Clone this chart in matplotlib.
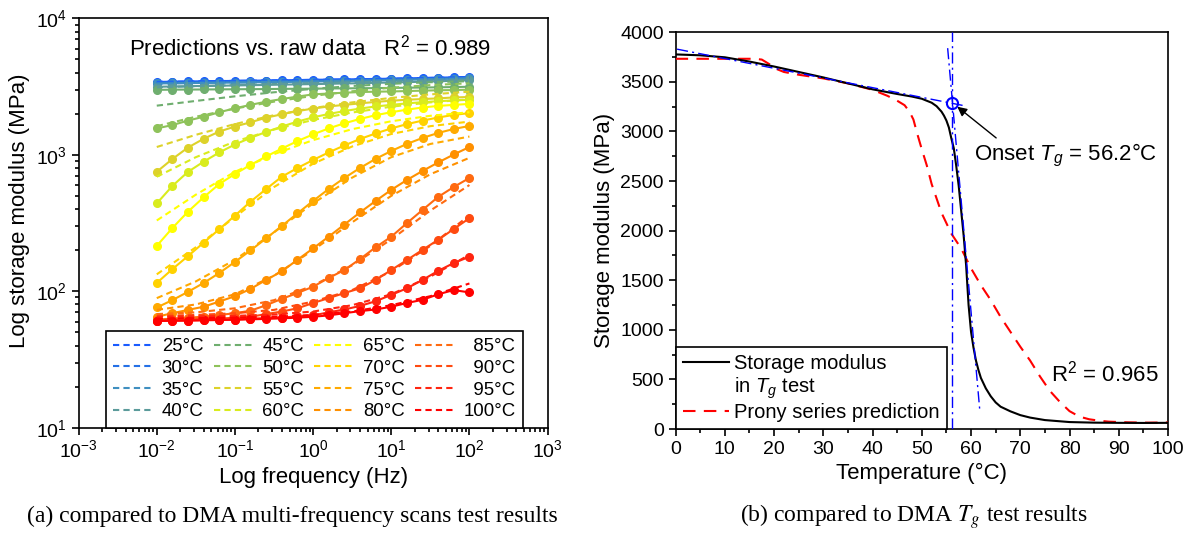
import numpy as np
import matplotlib
matplotlib.use('Agg')
import matplotlib.pyplot as plt
from matplotlib.lines import Line2D
from matplotlib.ticker import LogLocator, MultipleLocator, NullFormatter

plt.rcParams['font.family'] = ['Liberation Sans', 'DejaVu Sans']
plt.rcParams['mathtext.fontset'] = 'custom'
plt.rcParams['mathtext.rm'] = 'Liberation Sans'
plt.rcParams['mathtext.it'] = 'Liberation Sans:italic'
plt.rcParams['mathtext.bf'] = 'Liberation Sans:bold'

# ---------------- data: panel (a) ----------------
temps = [25, 30, 35, 40, 45, 50, 55, 60, 65, 70, 75, 80, 85, 90, 95, 100]
colors = ['#1a5cff', '#2470e6', '#3f8fc0', '#5b9b9b', '#6fae6f', '#8ec25a',
          '#ddd22a', '#d9ec1e', '#ffff00', '#ffd200', '#ffaa00', '#ff9000',
          '#ff6a10', '#ff4a10', '#ff2510', '#ff0000']

freq_raw = [0.01, 0.0158, 0.0251, 0.0398, 0.0631, 0.1, 0.158, 0.251, 0.398, 0.631,
            1, 1.58, 2.51, 3.98, 6.31, 10, 15.8, 25.1, 39.8, 63.1, 100]
freq_pred = [0.01, 0.0316, 0.1, 0.316, 1, 3.16, 10, 31.6, 100]

raw_25 = [3420, 3430, 3445, 3455, 3465, 3480, 3490, 3500, 3515, 3525, 3540, 3555, 3565, 3580, 3595, 3610, 3630, 3650, 3670, 3695, 3720]
raw_30 = [3380, 3390, 3400, 3410, 3420, 3430, 3440, 3455, 3465, 3475, 3490, 3505, 3520, 3535, 3550, 3565, 3585, 3605, 3625, 3650, 3680]
raw_35 = [3330, 3340, 3350, 3360, 3370, 3380, 3390, 3400, 3410, 3425, 3440, 3455, 3470, 3485, 3500, 3520, 3540, 3560, 3585, 3610, 3640]
raw_40 = [3150, 3165, 3180, 3195, 3205, 3220, 3235, 3250, 3265, 3280, 3295, 3310, 3330, 3345, 3365, 3385, 3405, 3430, 3455, 3485, 3520]
raw_45 = [2990, 3000, 3005, 3010, 3015, 3020, 3025, 3030, 3040, 3045, 3050, 3060, 3065, 3075, 3080, 3090, 3100, 3110, 3120, 3135, 3150]
raw_50 = [1560, 1650, 1780, 1900, 2050, 2190, 2320, 2450, 2560, 2670, 2770, 2810, 2850, 2880, 2900, 2910, 2930, 2950, 2970, 2980, 3000]
raw_55 = [750, 930, 1130, 1310, 1480, 1610, 1730, 1870, 1980, 2090, 2180, 2260, 2320, 2380, 2440, 2490, 2530, 2560, 2590, 2630, 2650]
raw_60 = [440, 590, 750, 890, 1040, 1190, 1330, 1470, 1610, 1750, 1880, 1990, 2090, 2180, 2260, 2320, 2380, 2430, 2470, 2500, 2530]
raw_65 = [215, 290, 383, 488, 611, 723, 842, 972, 1110, 1260, 1410, 1560, 1700, 1830, 1950, 2050, 2140, 2220, 2280, 2320, 2360]
raw_70 = [115, 145, 181, 227, 285, 358, 453, 561, 691, 800, 916, 1040, 1170, 1305, 1433, 1560, 1676, 1780, 1875, 1960, 2020]
raw_75 = [76, 86, 99, 115, 136, 164, 199, 244, 301, 372, 459, 561, 676, 800, 933, 1066, 1200, 1328, 1445, 1546, 1626]
raw_80 = [65, 69, 73, 77, 84, 92, 104, 121, 140, 170, 206, 251, 308, 378, 459, 553, 653, 761, 878, 1005, 1140]
raw_85 = [62, 63, 64, 65, 67, 69, 72, 79, 88, 97, 108, 125, 143, 172, 210, 251, 315, 394, 491, 581, 676]
raw_90 = [61, 62, 62, 63, 63, 64, 65, 68, 71, 75, 82, 89, 97, 105, 121, 143, 169, 201, 238, 286, 343]
raw_95 = [61, 61, 61, 61.5, 62, 62, 63, 63.5, 64, 65.5, 66.5, 70, 73.5, 78, 84.5, 94, 105, 121, 141, 161, 179]
raw_100 = [60.5, 60.7, 61, 61.2, 61.5, 61.8, 62.2, 62.7, 63.3, 64, 65, 66.5, 69, 71.5, 73.5, 77, 82, 86.5, 95, 102, 98]

pred_25 = [3420, 3450, 3480, 3510, 3540, 3570, 3610, 3660, 3710]
pred_30 = [3380, 3410, 3440, 3470, 3500, 3530, 3570, 3620, 3670]
pred_35 = [3330, 3360, 3390, 3420, 3450, 3490, 3530, 3580, 3630]
pred_40 = [3120, 3180, 3240, 3300, 3350, 3400, 3450, 3490, 3530]
pred_45 = [2290, 2480, 2680, 2870, 3040, 3190, 3310, 3400, 3460]
pred_50 = [1620, 1900, 2180, 2450, 2700, 2920, 3100, 3240, 3340]
pred_55 = [1140, 1400, 1680, 1950, 2200, 2420, 2610, 2770, 2900]
pred_60 = [690, 960, 1250, 1530, 1800, 2040, 2250, 2420, 2550]
pred_65 = [330, 510, 750, 1010, 1280, 1540, 1760, 1930, 2050]
pred_70 = [133, 210, 350, 580, 860, 1150, 1420, 1620, 1750]
pred_75 = [89, 118, 170, 270, 440, 680, 960, 1200, 1360]
pred_80 = [73, 80, 95, 130, 200, 320, 500, 720, 950]
pred_85 = [68, 70, 75, 86, 110, 155, 240, 390, 600]
pred_90 = [66, 67, 69, 73, 84, 102, 140, 215, 360]
pred_95 = [65, 65.5, 66, 67.5, 71, 79, 95, 128, 185]
pred_100 = [63, 63.5, 64, 65, 67, 71, 79, 92, 114]

raw_sets = [raw_25, raw_30, raw_35, raw_40, raw_45, raw_50, raw_55, raw_60,
            raw_65, raw_70, raw_75, raw_80, raw_85, raw_90, raw_95, raw_100]
pred_sets = [pred_25, pred_30, pred_35, pred_40, pred_45, pred_50, pred_55, pred_60,
             pred_65, pred_70, pred_75, pred_80, pred_85, pred_90, pred_95, pred_100]

# ---------------- data: panel (b) ----------------
T_test = [0, 5, 10, 15, 20, 25, 30, 35, 40, 45, 48, 50, 52, 53, 54, 54.5, 55, 55.5, 56, 56.5,
          57, 57.5, 58, 58.5, 59, 59.5, 60, 60.5, 61, 61.5, 62, 63, 64, 65, 66, 68, 70, 72,
          75, 80, 85, 90, 95, 100]
E_test = [3777, 3768, 3748, 3705, 3655, 3600, 3545, 3485, 3425, 3378, 3352, 3330, 3290, 3255,
          3200, 3160, 3110, 3040, 2930, 2830, 2650, 2450, 2200, 1950, 1650, 1250, 980, 820,
          690, 595, 515, 410, 330, 268, 225, 178, 140, 115, 90, 70, 64, 62, 61, 62]
T_prony = [0, 10, 16, 17.5, 19, 20.5, 22, 25, 30, 35, 40, 43, 45, 46.5, 47.5, 48.3, 49, 50,
           51, 52, 54, 56, 58, 60, 62, 64, 66, 68, 70, 72, 74, 76, 78, 80, 82, 84, 86, 88,
           92, 96, 100]
E_prony = [3733, 3733, 3733, 3725, 3680, 3630, 3600, 3572, 3535, 3485, 3420, 3360, 3310,
           3265, 3200, 3120, 2990, 2820, 2660, 2470, 2180, 1970, 1820, 1620, 1450, 1300,
           1130, 980, 830, 690, 530, 385, 275, 180, 125, 98, 84, 74, 67, 64, 66]
tan1_T = [0.3, 58.8]
tan1_E = [3830, 3258]
tan2_T = [55.25, 61.8]
tan2_E = [3840, 175]
vline_T = [56.2, 56.2]
vline_E = [0, 4000]
onset_T = [56.2]
onset_E = [3283]

# ---------------- figure ----------------
W, H = 1193, 533
fig = plt.figure(figsize=(W / 100, H / 100), dpi=100)

ax1 = fig.add_axes([78.6 / W, (H - 427.7) / H, 469 / W, 409.4 / H])
ax2 = fig.add_axes([675.6 / W, (H - 429) / H, 492.4 / W, 396.7 / H])

# ---- panel (a)
handles = []
for t, c, r, p in zip(temps, colors, raw_sets, pred_sets):
    ax1.plot(freq_raw, r, '-', color=c, lw=1.5, marker='o', ms=5.5, mec=c, mfc=c, zorder=3)
    h, = ax1.plot(freq_pred, p, color=c, lw=1.5, ls=(0, (3, 2)), zorder=4)
    handles.append(h)

ax1.set_xscale('log')
ax1.set_yscale('log')
ax1.set_xlim(1e-3, 1e3)
ax1.set_ylim(10, 1e4)
ax1.xaxis.set_major_locator(LogLocator(base=10, numticks=10))
ax1.xaxis.set_minor_locator(LogLocator(base=10, subs=np.arange(2, 10), numticks=100))
ax1.xaxis.set_minor_formatter(NullFormatter())
ax1.yaxis.set_minor_locator(LogLocator(base=10, subs=np.arange(2, 10), numticks=100))
ax1.yaxis.set_minor_formatter(NullFormatter())
ax1.set_xlabel('Log frequency (Hz)', fontsize=16, labelpad=4)
ax1.set_ylabel('Log storage modulus (MPa)', fontsize=16)
ax1.yaxis.set_label_coords(-0.103, 0.53)
ax1.text(0.493, 0.9275, 'Predictions vs. raw data   R$^2$ = 0.989', transform=ax1.transAxes,
         ha='center', va='center', fontsize=16)

# last legend column right-aligned like the original (figure space pads two-digit labels)
leg_labels = [(f'\u2007{t}°C' if (t >= 85 and t < 100) else f'{t}°C') for t in temps]
leg1 = ax1.legend(handles, leg_labels, ncol=4, loc='lower left',
                  bbox_to_anchor=(0.058, 0.0), fontsize=13.4, frameon=True, fancybox=False,
                  edgecolor='k', framealpha=1, handlelength=2.2, handletextpad=0.4,
                  columnspacing=0.55, labelspacing=0.25, borderpad=0.4, borderaxespad=0)
leg1.get_frame().set_linewidth(1.2)

# ---- panel (b)
l_test, = ax2.plot(T_test, E_test, color='k', lw=1.5, zorder=4)
l_prony, = ax2.plot(T_prony, E_prony, color='#ff0000', lw=1.5, ls=(0, (6, 4)), zorder=3)
dd = (0, (8, 3, 1.5, 3))
ax2.plot(tan1_T, tan1_E, color='#0000ff', lw=1, ls=dd, zorder=5)
ax2.plot(tan2_T, tan2_E, color='#0000ff', lw=1, ls=dd, zorder=5)
ax2.plot(vline_T, vline_E, color='#0000ff', lw=1, ls=dd, zorder=5)
ax2.plot(onset_T, onset_E, 'o', ms=8, mfc='none', mec='#0000ff', mew=1.5, zorder=6)
ax2.annotate('', xy=(57.2, 3250), xytext=(65.1, 2935),
             arrowprops=dict(arrowstyle='-|>', color='k', lw=1, mutation_scale=14,
                             shrinkA=0, shrinkB=0))
ax2.text(60.7, 2762, 'Onset $T_g$ = 56.2°C', ha='left', va='center', fontsize=16)
ax2.text(87.2, 561, 'R$^2$ = 0.965', ha='center', va='center', fontsize=16)

ax2.set_xlim(0, 100)
ax2.set_ylim(0, 4000)
ax2.xaxis.set_major_locator(MultipleLocator(10))
ax2.xaxis.set_minor_locator(MultipleLocator(5))
ax2.yaxis.set_major_locator(MultipleLocator(500))
ax2.yaxis.set_minor_locator(MultipleLocator(250))
ax2.set_xlabel('Temperature (°C)', fontsize=16, labelpad=4)
ax2.set_ylabel('Storage modulus (MPa)', fontsize=16, labelpad=4)

blank = Line2D([], [], color='none')
leg2 = ax2.legend([l_test, blank, l_prony],
                  ['Storage modulus', 'in $T_g$ test', 'Prony series prediction'],
                  loc='lower left', bbox_to_anchor=(0, 0), borderaxespad=0, fontsize=14.5,
                  frameon=True, fancybox=False, edgecolor='k', framealpha=1,
                  handlelength=2.3, handletextpad=0.25, labelspacing=0.12, borderpad=0.35)
leg2.get_frame().set_linewidth(1.2)

for ax in (ax1, ax2):
    for s in ax.spines.values():
        s.set_linewidth(1.2)
    ax.tick_params(which='both', direction='out', top=False, right=False, labelsize=14, width=1.2)
    ax.tick_params(which='major', length=5)
    ax.tick_params(which='minor', length=3)

fig.text(292 / W, 1 - 516.7 / H, '(a) compared to DMA multi-frequency scans test results',
         ha='center', va='center', fontsize=17, family='Liberation Serif')
fig.text(914 / W, 1 - 516.7 / H, '(b) compared to DMA $T_g$ test results',
         ha='center', va='center', fontsize=17, family='Liberation Serif', math_fontfamily='stix')

fig.savefig('out.png', dpi=100)
